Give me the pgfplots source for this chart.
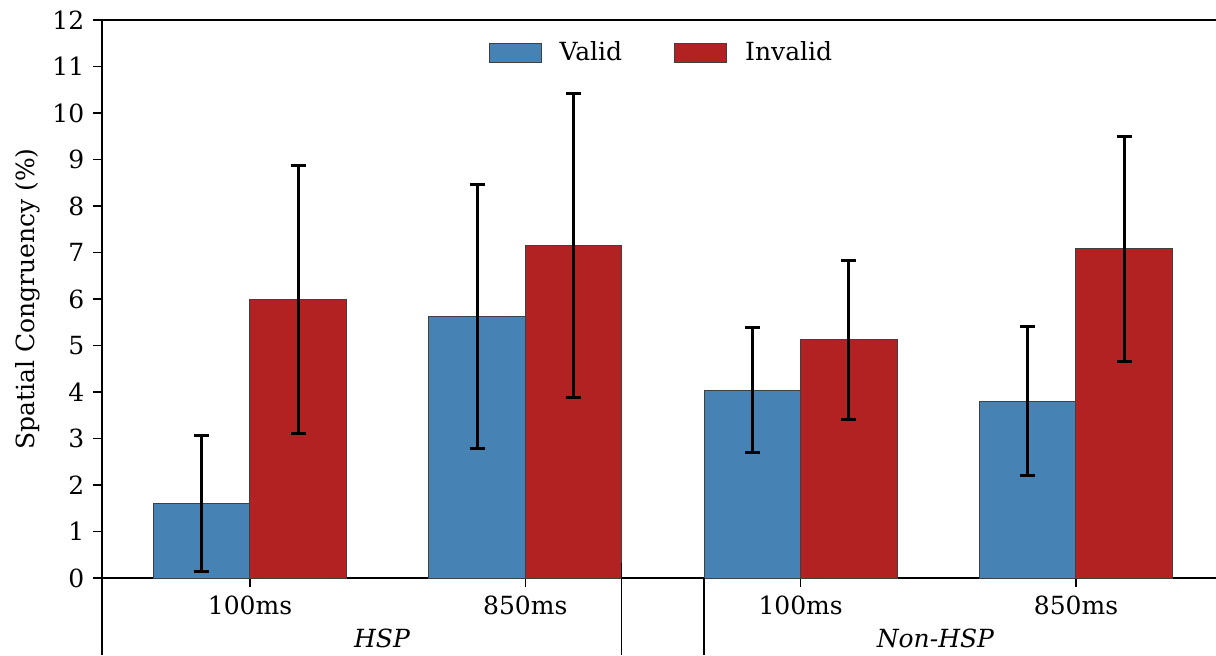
\documentclass[border=0pt]{standalone}
\usepackage{fontspec}
\setmainfont{DejaVu Serif}
\usepackage{pgfplots}
\pgfplotsset{compat=1.18}
\definecolor{validblue}{RGB}{70,130,180}
\definecolor{invalidred}{RGB}{178,34,34}

% x, mean, error
\pgfplotstableread{
x  y    e
0  1.61 1.46
1  5.63 2.84
2  4.04 1.35
3  3.80 1.60
}\validdata
\pgfplotstableread{
x  y    e
0  5.99 2.89
1  7.16 3.27
2  5.12 1.71
3  7.08 2.42
}\invaliddata

\begin{document}
\fontsize{12.5}{15}\selectfont
\begin{tikzpicture}
\begin{axis}[
    scale only axis,
    width=557pt, height=279pt,
    xmin=-0.5375, xmax=3.5085,
    ymin=0, ymax=12,
    axis x line*=box, axis y line*=left,
    xtick pos=left, ytick pos=left,
    xtick={0,1,2,3},
    xticklabels={100ms,850ms,100ms,850ms},
    ytick={0,1,...,12},
    tick align=outside,
    major tick length=4.5pt,
    tick style={black, line width=0.7pt},
    axis line style={black, line width=0.8pt},
    /pgf/number format/assume math mode=true,
    ylabel={Spatial Congruency (\%)},
    ylabel style={at={(axis description cs:-0.0664,0.5)}, anchor=center},
    ybar, bar width=0.35,
    clip=false,
    legend columns=2,
    legend style={draw=none, fill=none, at={(0.503,0.9409)}, anchor=center,
        /tikz/every odd column/.append style={column sep=7pt},
        /tikz/every even column/.append style={column sep=24pt}},
    legend image code/.code={\draw[#1] (0pt,-4.75pt) rectangle (26pt,4.75pt);},
    error bars/y dir=both,
    error bars/y explicit,
    error bars/error bar style={black, line width=1.5pt},
    error bars/error mark options={black, line width=1.5pt, mark size=3.75pt, rotate=90},
]
\addplot[fill=validblue, draw=black!75, line width=0.5pt, bar shift=-0.175]
    table[x=x, y=y, y error=e] {\validdata};
\addlegendentry{Valid}
\addplot[fill=invalidred, draw=black!75, line width=0.5pt, bar shift=0.175]
    table[x=x, y=y, y error=e] {\invaliddata};
\addlegendentry{Invalid}

\node at (axis cs:0.48,0) [yshift=-30pt] {\textit{HSP}};
\node at (axis cs:2.49,0) [yshift=-30pt] {\textit{Non-HSP}};
\draw[line width=0.8pt] (axis cs:-0.5375,0) -- ([yshift=-38.5pt]axis cs:-0.5375,0);
\draw[line width=0.8pt] ([yshift=7.5pt]axis cs:1.35,0) -- ([yshift=-38.5pt]axis cs:1.35,0);
\draw[line width=0.8pt] (axis cs:1.65,0) -- ([yshift=-38.5pt]axis cs:1.65,0);
\end{axis}
\pgfresetboundingbox
\useasboundingbox (-51pt,-38.5pt) rectangle (557pt,289pt);
\end{tikzpicture}
\end{document}
